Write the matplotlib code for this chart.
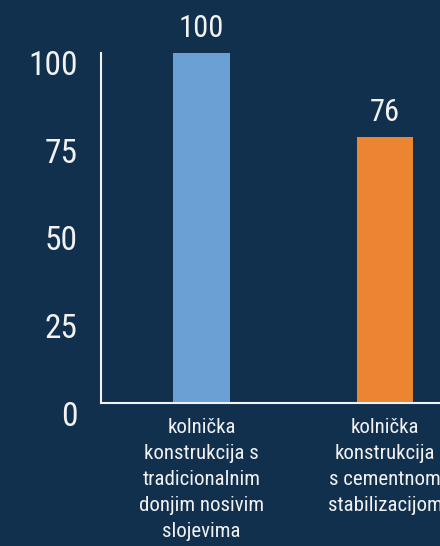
import matplotlib
matplotlib.use("Agg")
import matplotlib.pyplot as plt
import matplotlib.transforms as mtransforms

categories = ["kolnička\nkonstrukcija s\ntradicionalnim\ndonjim nosivim\nslojevima",
              "kolnička\nkonstrukcija\ns cementnom\nstabilizacijom"]
values = [100, 76]
yticks = [0, 25, 50, 75, 100]
bar_colors = ["#6aa0d4", "#ec8531"]

plt.rcParams['font.family'] = ['Roboto Condensed', 'DejaVu Sans']

bg = "#11304e"
fg = "#f2f2f2"
fig = plt.figure(figsize=(4.4, 5.46), dpi=100, facecolor=bg)
ax = fig.add_axes([101/440, 143/546, 1 - 101/440, 350/546])
ax.set_facecolor(bg)

x = list(range(len(values)))
ax.bar(x, values, width=0.31, color=bar_colors)
ax.set_xlim(-0.548, 1.30)
ax.set_ylim(0, 100)
ax.set_yticks(yticks)
ax.set_yticklabels([str(t) for t in yticks], fontsize=24, color=fg)
ax.tick_params(axis='y', length=0, pad=17)
offset = mtransforms.ScaledTranslation(0, -10/100, fig.dpi_scale_trans)
for lab in ax.get_yticklabels():
    lab.set_transform(lab.get_transform() + offset)

ax.set_xticks(x)
ax.set_xticklabels(categories, fontsize=15, color=fg, linespacing=1.47)
ax.tick_params(axis='x', length=0, pad=11)

for s in ['top', 'right']:
    ax.spines[s].set_visible(False)
for s in ['left', 'bottom']:
    ax.spines[s].set_color(fg)
    ax.spines[s].set_linewidth(1.5)

for xi, v in zip(x, values):
    ax.annotate(str(v), (xi, v), xytext=(0, 7), textcoords='offset points',
                ha='center', va='bottom', fontsize=22, color=fg)

fig.savefig("out.png", dpi=100, facecolor=bg)
